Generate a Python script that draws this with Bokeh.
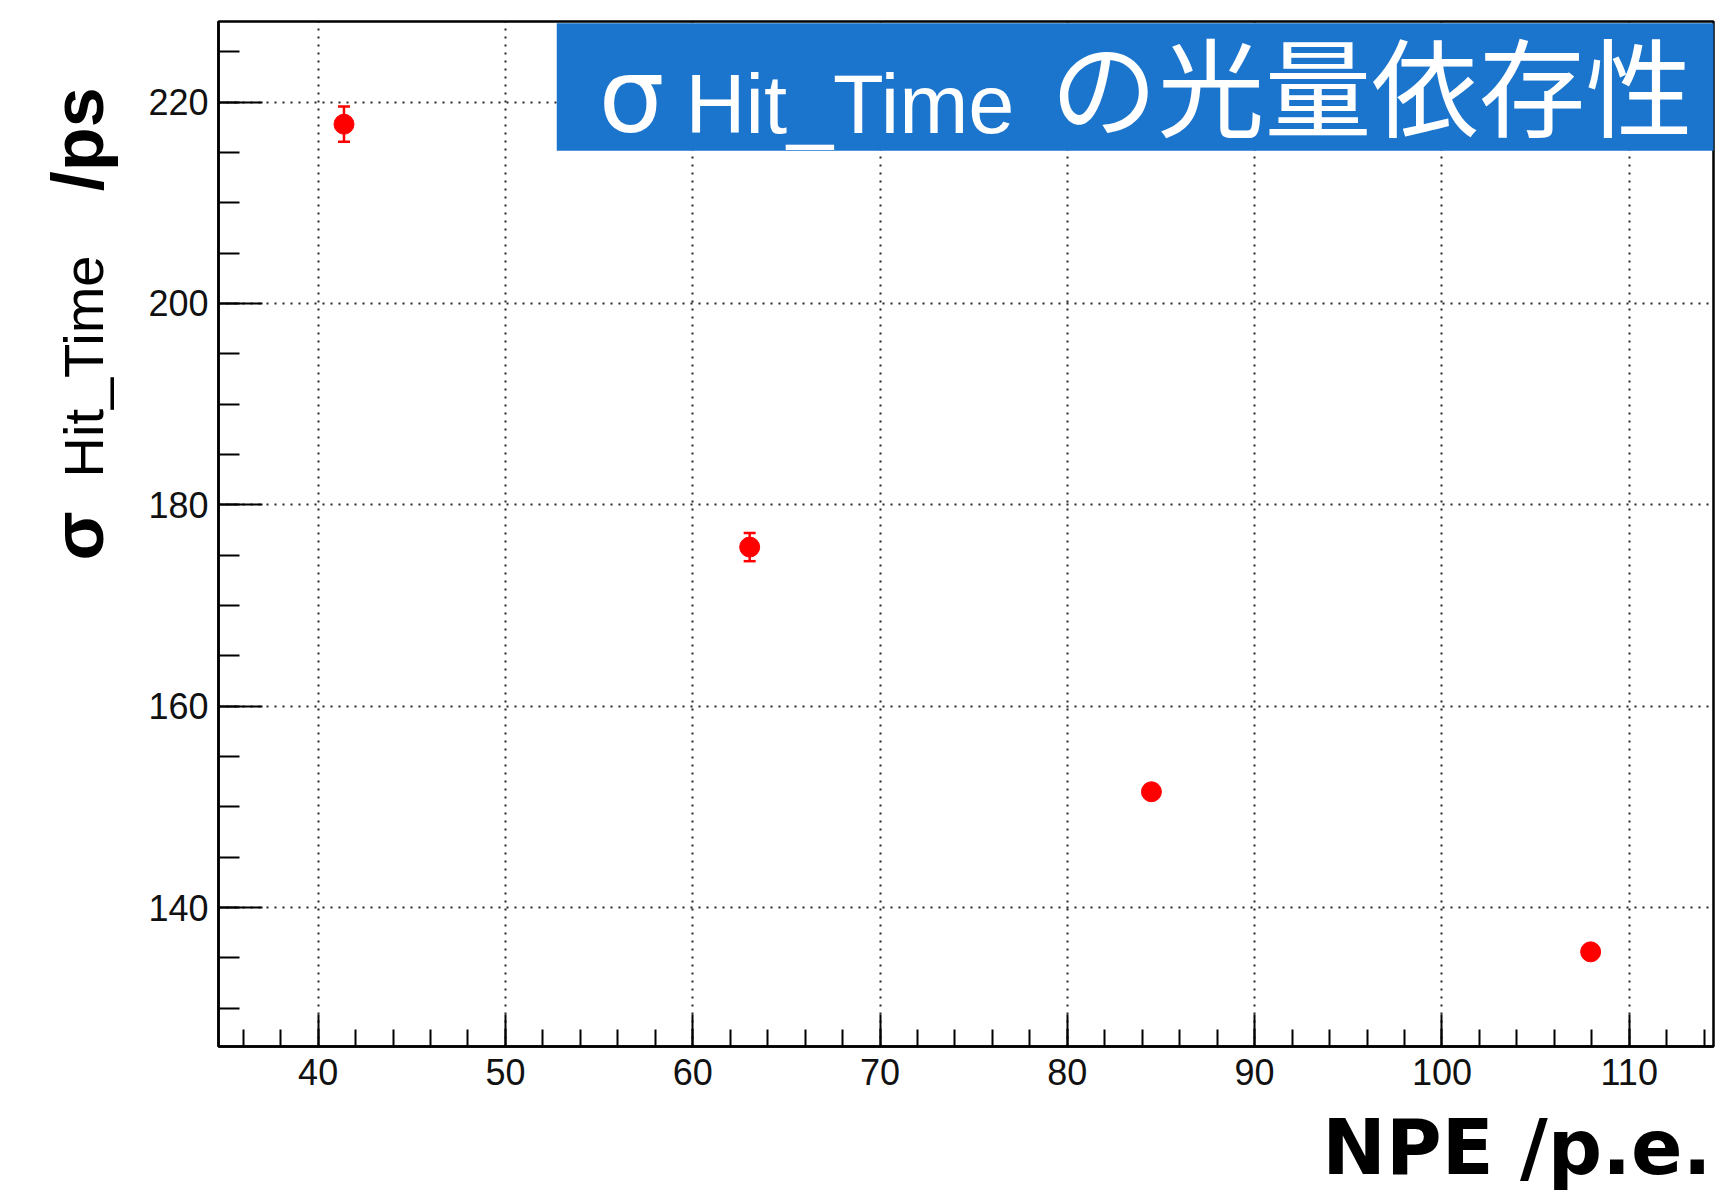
import math
from bokeh.plotting import figure
from bokeh.models import (Range1d, SingleIntervalTicker, ColumnDataSource,
                          BoxAnnotation, Label)
from bokeh.embed import file_html
from bokeh.resources import INLINE

# ---------------- data ----------------
npe = [41.38, 63.04, 84.49, 107.94]            # NPE /p.e.
sigma_hit_time = [217.8, 175.8, 151.5, 135.6]  # sigma Hit_Time /ps
sigma_err = [1.75, 1.4, 0.7, 0.5]

x_limits = (34.68, 114.5)
y_limits = (126.2, 228.0)
x_major_step = 10
y_major_step = 20

title_sigma = "σ"
title_sub = "Hit_Time"
title_jp = "の光量依存性"
x_title = "NPE /p.e."
y_title_parts = ["σ", "Hit_Time", "/ps"]

# ---------------- styles / layout ----------------
W, H = 1716, 1192
BLUE = "#1c75cd"
RED = "#ff0000"
FONT = "Liberation Sans"
WIDE = "DejaVu Sans"

p = figure(width=W, height=H, output_backend="svg", toolbar_location=None,
           x_range=Range1d(*x_limits), y_range=Range1d(*y_limits),
           min_border_left=218, min_border_right=3, min_border_top=21,
           min_border_bottom=146)
p.background_fill_color = "white"
p.border_fill_color = "white"
p.outline_line_color = "black"
p.outline_line_width = 2.5

p.xaxis.ticker = SingleIntervalTicker(interval=x_major_step, num_minor_ticks=5)
p.yaxis.ticker = SingleIntervalTicker(interval=y_major_step, num_minor_ticks=4)

for ax in (p.xaxis[0], p.yaxis[0]):
    ax.axis_line_width = 2.5
    ax.axis_line_color = "black"
    ax.major_tick_line_width = 2
    ax.minor_tick_line_width = 2
    ax.major_tick_line_color = "black"
    ax.minor_tick_line_color = "black"
    ax.major_tick_out = 0
    ax.minor_tick_out = 0
    ax.major_label_text_font = FONT
    ax.major_label_text_font_size = "36px"
    ax.major_label_text_color = "#111111"

p.xaxis.major_tick_in = 32
p.xaxis.minor_tick_in = 17
p.xaxis.major_label_standoff = 12
p.yaxis.major_tick_in = 44
p.yaxis.minor_tick_in = 21
p.yaxis.major_label_standoff = 10

for g in (p.xgrid[0], p.ygrid[0]):
    g.grid_line_color = "black"
    g.grid_line_dash = "2 6"
    g.grid_line_width = 2
    g.grid_line_alpha = 0.85

# ---------------- data marks ----------------
src = ColumnDataSource(dict(
    x=npe, y=sigma_hit_time,
    upper=[v + e for v, e in zip(sigma_hit_time, sigma_err)],
    lower=[v - e for v, e in zip(sigma_hit_time, sigma_err)],
))
p.segment(x0="x", y0="lower", x1="x", y1="upper", source=src,
          line_color=RED, line_width=2.5)
p.scatter("x", "upper", source=src, marker="dash", size=12,
          line_color=RED, line_width=2.5)
p.scatter("x", "lower", source=src, marker="dash", size=12,
          line_color=RED, line_width=2.5)
p.scatter("x", "y", source=src, marker="circle", size=20,
          fill_color=RED, line_color=RED)

# ---------------- title box ----------------
x0, x1 = x_limits
y0, y1 = y_limits
box = BoxAnnotation(left=52.74, right=x1 + 0.5, top=227.82, bottom=215.17,
                    fill_color=BLUE, fill_alpha=1.0, line_alpha=0.0)
p.add_layout(box)

HAS_CLIP = "clip" in Label.properties()

def lab(text, xo, yo, size, font=FONT, style="normal", color="white",
        align="left", angle=0.0, place=None, unclip=False):
    lb = Label(x=x0, y=y1, x_units="data", y_units="data",
               x_offset=xo, y_offset=yo, text=text,
               text_font=font, text_font_size=f"{size}px",
               text_font_style=style, text_color=color,
               text_align=align, text_baseline="alphabetic", angle=angle)
    if unclip and HAS_CLIP:
        lb.clip = False
    if place is None:
        p.add_layout(lb)
    else:
        p.add_layout(lb, place)

# title inside the blue box
lab(title_sigma, 380, -74, 104, font=WIDE)
lab(title_sub, 467, -83, 83)
lab(title_jp, 1474, -61, 107, font="Noto Sans CJK JP", align="right")

# x axis title in the lower side panel
lab(x_title, 1493, -1126, 76, font=WIDE, style="bold", color="black",
    align="right", place="below")

# y axis title (rotated)
if HAS_CLIP:
    lab(y_title_parts[0], -146, -539, 88, font=WIDE, style="bold", color="black",
        angle=math.pi / 2, unclip=True)
    lab(y_title_parts[1], -137, -471, 60, color="black", angle=math.pi / 2, unclip=True)
    lab(y_title_parts[2], -142, -180, 76, font=WIDE, style="bold", color="black",
        angle=math.pi / 2, unclip=True)
else:
    gap = "\u00a0" * 16
    lab(y_title_parts[0] + gap + y_title_parts[2], -141, -539, 72,
        style="bold", color="black", angle=math.pi / 2, place="left")
    lab(y_title_parts[1], -135, -456, 56, color="black",
        angle=math.pi / 2, place="left")

open("out.html", "w").write(file_html(p, INLINE))
